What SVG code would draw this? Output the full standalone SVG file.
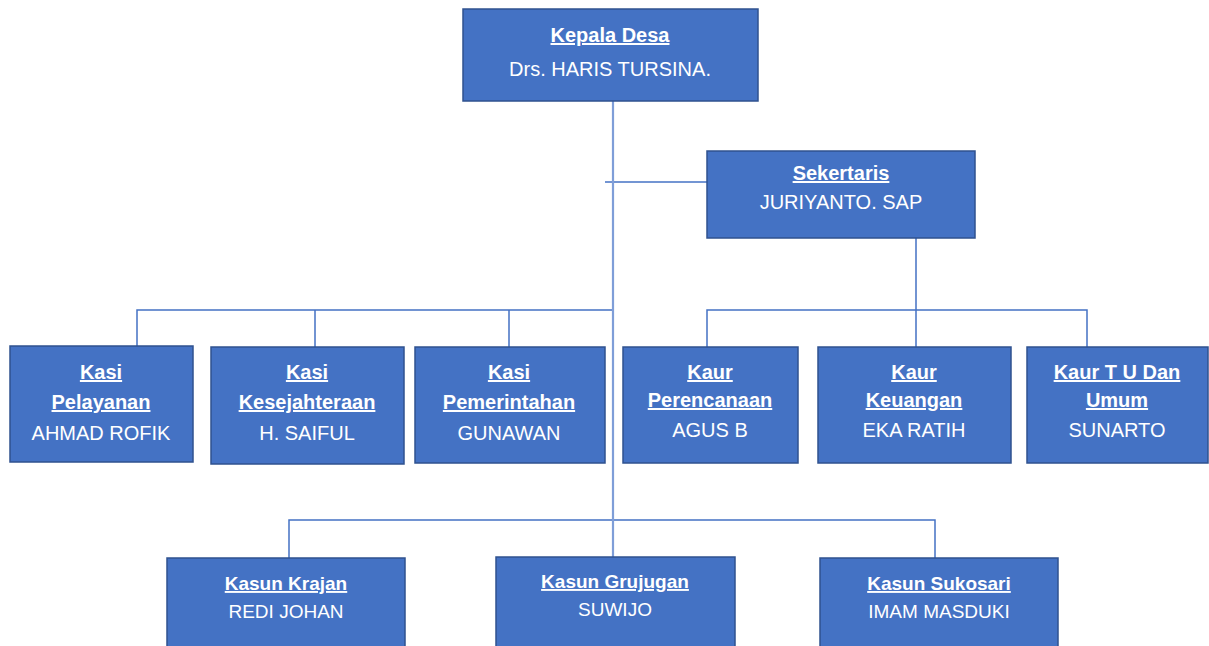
<svg xmlns="http://www.w3.org/2000/svg" width="1209" height="646" viewBox="0 0 1209 646">
<style>
.box{fill:#4472C4;stroke:#2F528F;stroke-width:1.5}
.t{font-family:"Liberation Sans",Arial,sans-serif;fill:#fff;text-anchor:middle;font-size:20px}
.h{font-weight:bold;text-decoration:underline}
.s{font-size:19px}
.c{fill:none;stroke:#4472C4;stroke-width:1.5}
.m{fill:none;stroke:#7F9ED8;stroke-width:2.2}
</style>
<rect width="1209" height="646" fill="#fff"/>
<g id="connectors">
<path class="c" d="M605 182H707"/>
<path class="c" d="M137 346V310H613M315 310V347M509 310V347"/>
<path class="c" d="M916 238V347M707 347V310H1087V347"/>
<path class="c" d="M289 558V520H935V558"/>
<path class="m" d="M613 101V557"/>
</g>
<g id="kepala-desa">
<rect class="box" x="463" y="9" width="295" height="92"/>
<text class="t h" x="610" y="42">Kepala Desa</text>
<text class="t" x="610" y="76">Drs. HARIS TURSINA.</text>
</g>
<g id="sekertaris">
<rect class="box" x="707" y="151" width="268" height="87"/>
<text class="t h" x="841" y="180">Sekertaris</text>
<text class="t" x="841" y="209">JURIYANTO. SAP</text>
</g>
<g id="kasi-pelayanan">
<rect class="box" x="10" y="346" width="183" height="116"/>
<text class="t h" x="101" y="379">Kasi</text>
<text class="t h" x="101" y="409">Pelayanan</text>
<text class="t" x="101" y="440">AHMAD ROFIK</text>
</g>
<g id="kasi-kesejahteraan">
<rect class="box" x="211" y="347" width="193" height="117"/>
<text class="t h" x="307" y="379">Kasi</text>
<text class="t h" x="307" y="409">Kesejahteraan</text>
<text class="t" x="307" y="440">H. SAIFUL</text>
</g>
<g id="kasi-pemerintahan">
<rect class="box" x="415" y="347" width="190" height="116"/>
<text class="t h" x="509" y="379">Kasi</text>
<text class="t h" x="509" y="409">Pemerintahan</text>
<text class="t" x="509" y="440">GUNAWAN</text>
</g>
<g id="kaur-perencanaan">
<rect class="box" x="623" y="347" width="175" height="116"/>
<text class="t h" x="710" y="379">Kaur</text>
<text class="t h" x="710" y="407">Perencanaan</text>
<text class="t" x="710" y="437">AGUS B</text>
</g>
<g id="kaur-keuangan">
<rect class="box" x="818" y="347" width="193" height="116"/>
<text class="t h" x="914" y="379">Kaur</text>
<text class="t h" x="914" y="407">Keuangan</text>
<text class="t" x="914" y="437">EKA RATIH</text>
</g>
<g id="kaur-tu-umum">
<rect class="box" x="1027" y="347" width="181" height="116"/>
<text class="t h" x="1117" y="379">Kaur T U Dan</text>
<text class="t h" x="1117" y="407">Umum</text>
<text class="t" x="1117" y="437">SUNARTO</text>
</g>
<g id="kasun-krajan">
<rect class="box" x="167" y="558" width="238" height="92"/>
<text class="t s h" x="286" y="590">Kasun Krajan</text>
<text class="t s" x="286" y="618">REDI JOHAN</text>
</g>
<g id="kasun-grujugan">
<rect class="box" x="496" y="557" width="239" height="93"/>
<text class="t s h" x="615" y="588">Kasun Grujugan</text>
<text class="t s" x="615" y="616">SUWIJO</text>
</g>
<g id="kasun-sukosari">
<rect class="box" x="820" y="558" width="238" height="92"/>
<text class="t s h" x="939" y="590">Kasun Sukosari</text>
<text class="t s" x="939" y="618">IMAM MASDUKI</text>
</g>
</svg>
